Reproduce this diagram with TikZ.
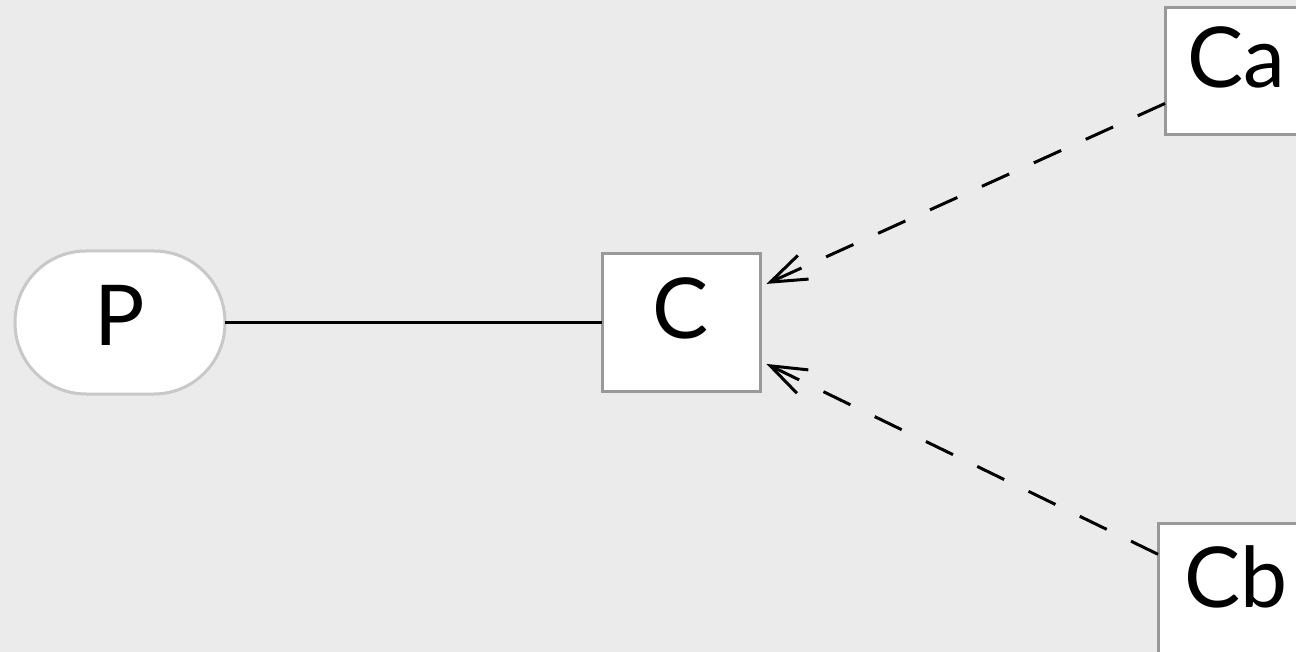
\documentclass[tikz,border=0pt]{standalone}
\usepackage{fontspec}
\setmainfont{Lato}
\usetikzlibrary{arrows.meta}
\definecolor{bgcol}{HTML}{EBEBEB}
\definecolor{boxborder}{HTML}{999999}
\definecolor{pillborder}{HTML}{C8C8C8}
\tikzset{
  boxnode/.style={draw=boxborder, line width=3pt, fill=white, inner sep=0pt, outer sep=0pt,
    font=\fontsize{84}{90}\selectfont, text height=60pt},
  pillnode/.style={draw=pillborder, line width=3pt, fill=white, inner sep=0pt, outer sep=0pt,
    rounded corners=71pt, font=\fontsize{84}{90}\selectfont, text height=60pt},
  plainlink/.style={line width=2.7pt, black},
  deplink/.style={line width=3pt, black, dash pattern=on 30pt off 27pt,
    -{Straight Barb[length=36pt,width=26pt,line width=3pt]}, shorten >=7pt}
}
\begin{document}
\begin{tikzpicture}[x=1pt,y=-1pt]
\useasboundingbox (0,0) rectangle (1296,652);
\fill[bgcol] (0,0) rectangle (1296,652);
\node[pillnode, minimum width=210pt, minimum height=143pt, text depth=15pt] (P) at (120,322.5) {P};
\node[boxnode, minimum width=158pt, minimum height=137pt, text depth=29pt] (C) at (681,322.5) {C};
\node[boxnode, minimum width=142pt, minimum height=127pt, text depth=27pt] (Ca) at (1236,71.5) {Ca};
\node[boxnode, minimum width=156pt, minimum height=138pt, text depth=30pt] (Cb) at (1236,592) {Cb};
\draw[plainlink] (P) -- (C);
\draw[deplink] (Ca) -- (C);
\draw[deplink] (Cb) -- (C);
\end{tikzpicture}
\end{document}
